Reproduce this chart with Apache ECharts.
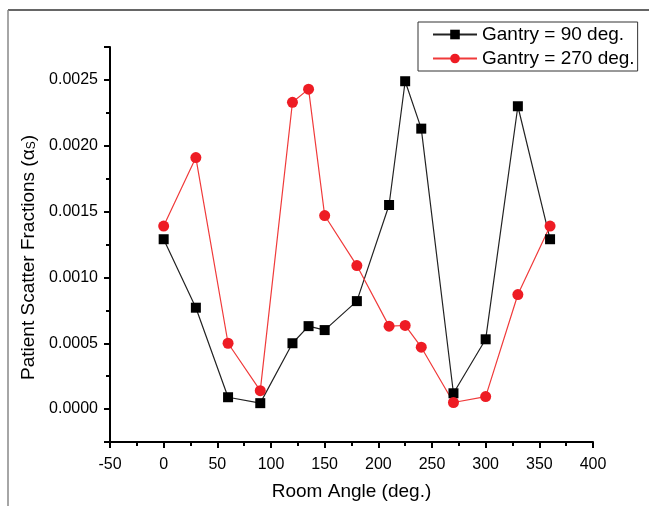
<!DOCTYPE html>
<html>
<head>
<meta charset="utf-8">
<script src="https://cdn.jsdelivr.net/npm/echarts@6/dist/echarts.min.js"></script>
<style>
  html, body { margin: 0; padding: 0; background: #fff; }
  #chart { width: 649px; height: 506px; }
</style>
</head>
<body>
<div id="chart"></div>
<script>
const roomAngles = [0, 30, 60, 90, 120, 135, 150, 180, 210, 225, 240, 270, 300, 330, 360];
const gantry90 = [0.00129, 0.00077, 0.00009, 0.000045, 0.0005, 0.00063, 0.0006, 0.00082, 0.00155, 0.00249, 0.00213, 0.00012, 0.00053, 0.0023, 0.00129];
const gantry270 = [0.00139, 0.00191, 0.0005, 0.00014, 0.00233, 0.00243, 0.00147, 0.00109, 0.00063, 0.000635, 0.00047, 0.00005, 0.000095, 0.00087, 0.00139];
const yMajorTicks = [0, 0.0005, 0.001, 0.0015, 0.002, 0.0025];

const font = 'Liberation Sans, Arial, sans-serif';

const chart = echarts.init(document.getElementById('chart'));

const toPairs = (ys) => roomAngles.map((x, i) => [x, ys[i]]);

const option = {
  backgroundColor: '#fff',
  animation: false,
  textStyle: { fontFamily: font },
  grid: { left: 110, right: 56, top: 47, bottom: 64 },
  graphic: [
    { type: 'line', shape: { x1: 8, y1: 10, x2: 649, y2: 10 }, style: { stroke: '#333', lineWidth: 1.5 } },
    { type: 'line', shape: { x1: 8, y1: 10, x2: 8, y2: 506 }, style: { stroke: '#888', lineWidth: 1.5 } },
  ],
  legend: {
    left: 418,
    top: 22,
    orient: 'vertical',
    borderColor: '#333',
    borderWidth: 1,
    padding: [3, 3, 3, 14],
    itemWidth: 44,
    itemHeight: 12,
    itemGap: 5,
    textStyle: { fontSize: 19, color: '#000', fontFamily: font },
    data: ['Gantry = 90 deg.', 'Gantry = 270 deg.'],
  },
  xAxis: {
    type: 'value',
    min: -50,
    max: 400,
    interval: 50,
    name: 'Room Angle (deg.)',
    nameLocation: 'middle',
    nameGap: 40,
    nameTextStyle: { fontSize: 19, color: '#000' },
    axisLine: { onZero: false, lineStyle: { color: '#000', width: 2 } },
    axisTick: { show: true, inside: false, length: 6, lineStyle: { color: '#000', width: 2 } },
    minorTick: { show: true, splitNumber: 2, length: 4, lineStyle: { color: '#000', width: 2 } },
    axisLabel: { fontSize: 16, color: '#000', margin: 15 },
    splitLine: { show: false },
  },
  yAxis: [
    {
      // no interval: ticks land on multiples of 0.0005 between the fixed ends
      type: 'value',
      min: -0.00025,
      max: 0.00275,
      splitNumber: 6,
      name: '{t|Patient Scatter Fractions (α}{s|S}{t|)}',
      nameLocation: 'middle',
      nameGap: 72,
      nameTextStyle: {
        color: '#000',
        padding: [0, 26, 0, 0],
        rich: {
          t: { fontSize: 19, lineHeight: 19, color: '#000', fontFamily: font, verticalAlign: 'top' },
          s: { fontSize: 12, lineHeight: 12, color: '#000', fontFamily: font, verticalAlign: 'bottom', padding: [10, 0, 0, 0] },
        },
      },
      axisLine: { onZero: false, lineStyle: { color: '#000', width: 2 } },
      axisTick: { show: true, length: 6, lineStyle: { color: '#000', width: 2 } },
      axisLabel: {
        fontSize: 16,
        color: '#000',
        margin: 12,
        customValues: yMajorTicks,
        formatter: (v) => v.toFixed(4),
      },
      splitLine: { show: false },
    },
    {
      // minor ticks every 0.00025
      type: 'value',
      position: 'left',
      min: -0.00025,
      max: 0.00275,
      interval: 0.00025,
      axisLine: { show: false, onZero: false },
      axisTick: { show: true, length: 4, lineStyle: { color: '#000', width: 2 } },
      axisLabel: { show: false },
      splitLine: { show: false },
    },
  ],
  series: [
    {
      name: 'Gantry = 90 deg.',
      type: 'line',
      data: toPairs(gantry90),
      symbol: 'rect',
      symbolSize: 10,
      itemStyle: { color: '#000' },
      lineStyle: { color: '#222', width: 1.2 },
    },
    {
      name: 'Gantry = 270 deg.',
      type: 'line',
      data: toPairs(gantry270),
      symbol: 'circle',
      symbolSize: 11,
      itemStyle: { color: '#ee1c24' },
      lineStyle: { color: '#f03a3a', width: 1.2 },
    },
  ],
};

chart.setOption(option);
</script>
</body>
</html>
